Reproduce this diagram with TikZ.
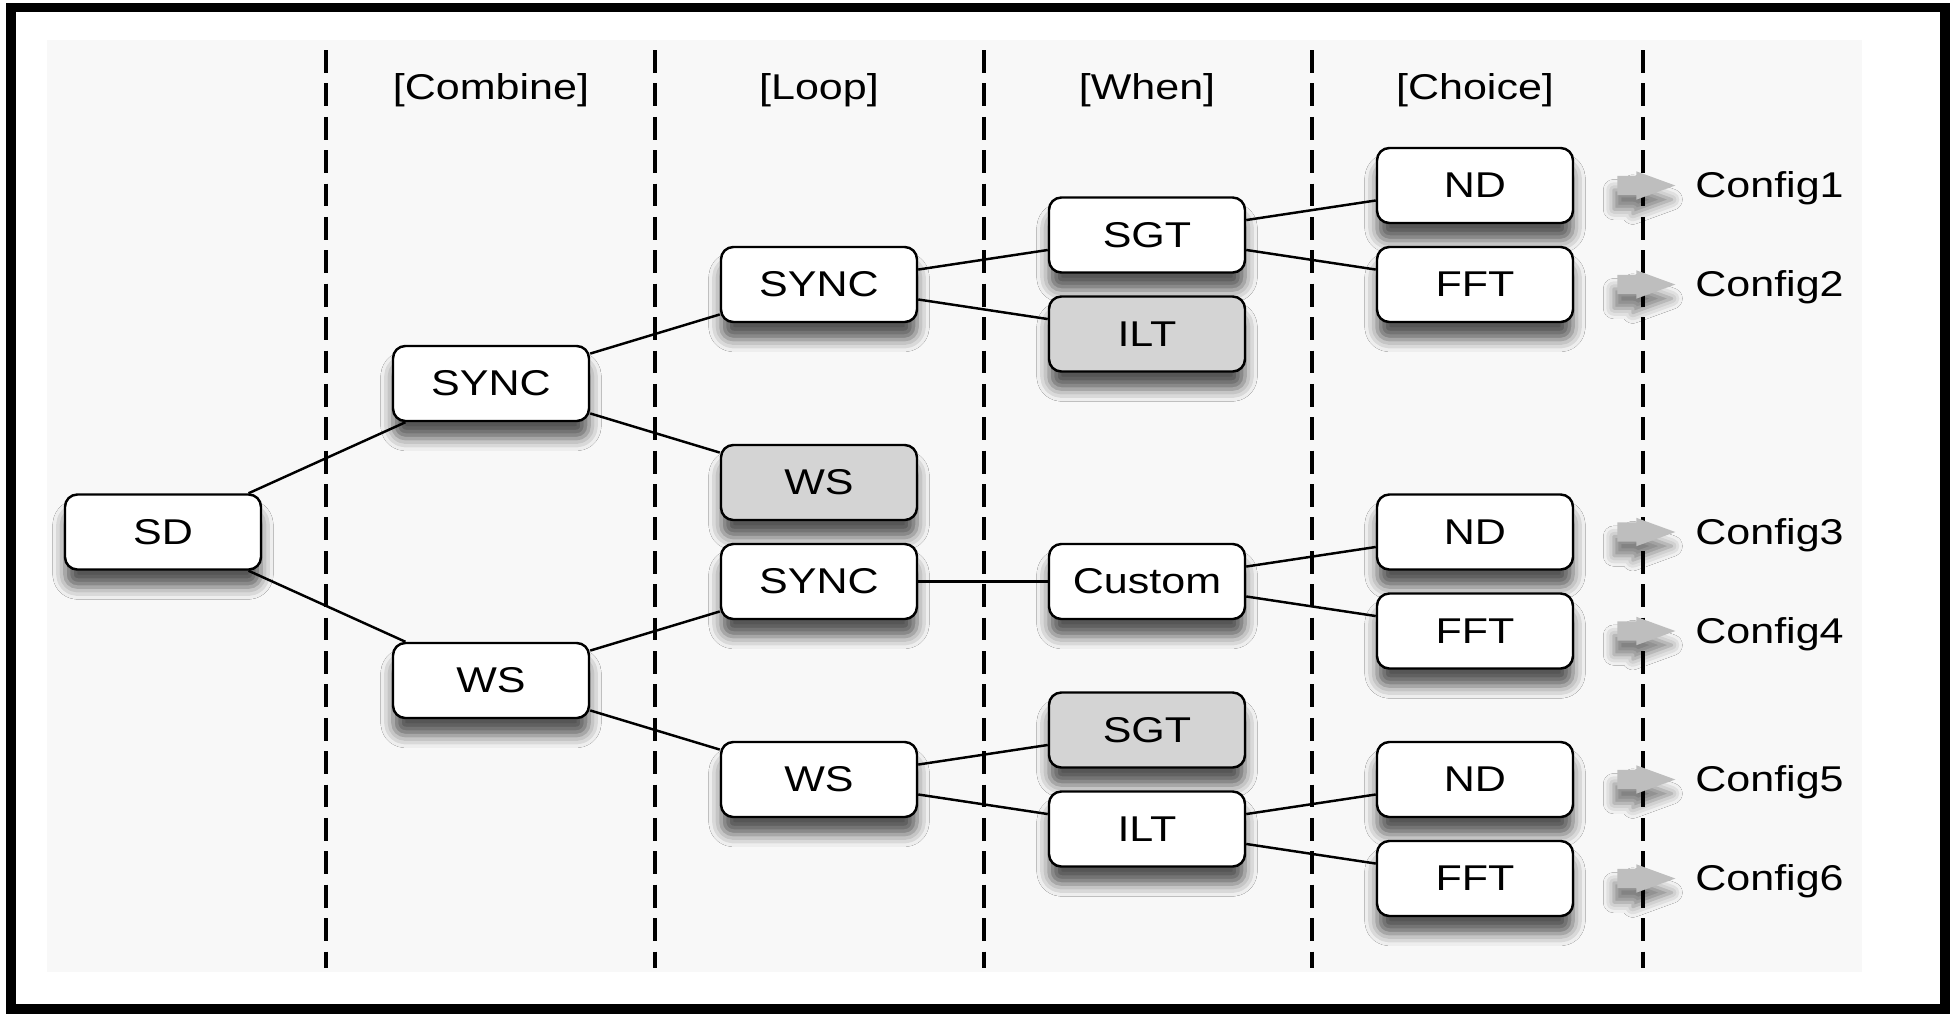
\documentclass[tikz,border=0pt]{standalone}
\usepackage{fontspec}
\setmainfont[FakeStretch=1.2]{Liberation Sans}
\usepackage{tikz}
\usetikzlibrary{positioning,shapes.arrows,shadows.blur}
\definecolor{panelgray}{HTML}{F8F8F8}
\definecolor{boxgray}{HTML}{D4D4D4}
\definecolor{arrowgray}{HTML}{BEBEBE}

\begin{document}
\begin{tikzpicture}[
    box/.style={draw,line width=0.7pt,rounded corners=3.5pt,minimum width=1.96cm,minimum height=0.75cm,fill=white,
      blur shadow={shadow xshift=0pt,shadow yshift=-5pt,shadow blur radius=3.5pt,shadow opacity=65}},
    pruned/.style={box,fill=boxgray},
    fat/.style={single arrow,fill=arrowgray,inner xsep=0pt,inner ysep=0.09cm,minimum height=0.58cm,
      single arrow head extend=0.045cm,single arrow tip angle=40,
      blur shadow={shadow xshift=-1pt,shadow yshift=-4pt,shadow blur radius=3pt,shadow opacity=50}},
    link/.style={line width=0.7pt},
    sep/.style={line width=1.2pt,dash pattern=on 6.5pt off 3pt},
    font=\fontsize{10.2}{12}\selectfont,
    on grid
  ]
    \useasboundingbox (0,0) rectangle (19.5,-10.15);
    \fill[panelgray] (0.47,-0.40) rectangle (18.62,-9.72);
    \draw[line width=2.6pt] (0.11,-0.075) rectangle (19.45,-10.09);

    \draw[sep] (3.26,-0.50) -- (3.26,-9.68);
    \draw[sep] (6.55,-0.50) -- (6.55,-9.68);
    \draw[sep] (9.84,-0.50) -- (9.84,-9.68);
    \draw[sep] (13.12,-0.50) -- (13.12,-9.68);
    \draw[sep] (16.43,-0.50) -- (16.43,-9.68);

    \node[box] (sd) at (1.63,-5.32) {SD};
    \node[box,above right=1.485cm and 3.28cm of sd] (csync) {SYNC};
    \node[box,below right=1.485cm and 3.28cm of sd] (cws) {WS};
    \node[box,above right=0.99cm and 3.28cm of csync] (lsync) {SYNC};
    \node[pruned,below right=0.99cm and 3.28cm of csync] (lws) {WS};
    \node[box,above right=0.99cm and 3.28cm of cws] (lsynctwo) {SYNC};
    \node[box,below right=0.99cm and 3.28cm of cws] (lwstwo) {WS};
    \node[box,above right=0.495cm and 3.28cm of lsync] (wsgt) {SGT};
    \node[pruned,below right=0.495cm and 3.28cm of lsync] (wilt) {ILT};
    \node[box,right=3.28cm of lsynctwo] (wcustom) {Custom};
    \node[pruned,above right=0.495cm and 3.28cm of lwstwo] (wsgttwo) {SGT};
    \node[box,below right=0.495cm and 3.28cm of lwstwo] (wilttwo) {ILT};
    \node[box,above right=0.495cm and 3.28cm of wsgt] (ndone) {ND};
    \node[box,below right=0.495cm and 3.28cm of wsgt] (fftone) {FFT};
    \node[box,above right=0.495cm and 3.28cm of wcustom] (ndtwo) {ND};
    \node[box,below right=0.495cm and 3.28cm of wcustom] (ffttwo) {FFT};
    \node[box,above right=0.495cm and 3.28cm of wilttwo] (ndthree) {ND};
    \node[box,below right=0.495cm and 3.28cm of wilttwo] (fftthree) {FFT};

    \node (hcombine) at (csync |- 0,-0.90) {[Combine]};
    \node (hloop) at (lsync |- 0,-0.90) {[Loop]};
    \node (hwhen) at (wsgt |- 0,-0.90) {[When]};
    \node (hchoice) at (ndone |- 0,-0.90) {[Choice]};

    \draw[link] (sd) -- (csync);
    \draw[link] (sd) -- (cws);
    \draw[link] (csync) -- (lsync);
    \draw[link] (csync) -- (lws);
    \draw[link] (cws) -- (lsynctwo);
    \draw[link] (cws) -- (lwstwo);
    \draw[link] (lsync) -- (wsgt);
    \draw[link] (lsync) -- (wilt);
    \draw[link] (lsynctwo) -- (wcustom);
    \draw[link] (lwstwo) -- (wsgttwo);
    \draw[link] (lwstwo) -- (wilttwo);
    \draw[link] (wsgt) -- (ndone);
    \draw[link] (wsgt) -- (fftone);
    \draw[link] (wcustom) -- (ndtwo);
    \draw[link] (wcustom) -- (ffttwo);
    \draw[link] (wilttwo) -- (ndthree);
    \draw[link] (wilttwo) -- (fftthree);

    \node[fat,right=1.58cm of ndone] (aone) {};
    \node[fat,right=1.58cm of fftone] (atwo) {};
    \node[fat,right=1.58cm of ndtwo] (athree) {};
    \node[fat,right=1.58cm of ffttwo] (afour) {};
    \node[fat,right=1.58cm of ndthree] (afive) {};
    \node[fat,right=1.58cm of fftthree] (asix) {};
    \node[right=1.365cm of aone,yshift=-0.03cm] (cone) {Config1};
    \node[right=1.365cm of atwo,yshift=-0.03cm] (ctwo) {Config2};
    \node[right=1.365cm of athree,yshift=-0.03cm] (cthree) {Config3};
    \node[right=1.365cm of afour,yshift=-0.03cm] (cfour) {Config4};
    \node[right=1.365cm of afive,yshift=-0.03cm] (cfive) {Config5};
    \node[right=1.365cm of asix,yshift=-0.03cm] (csix) {Config6};
  \end{tikzpicture}
\end{document}
